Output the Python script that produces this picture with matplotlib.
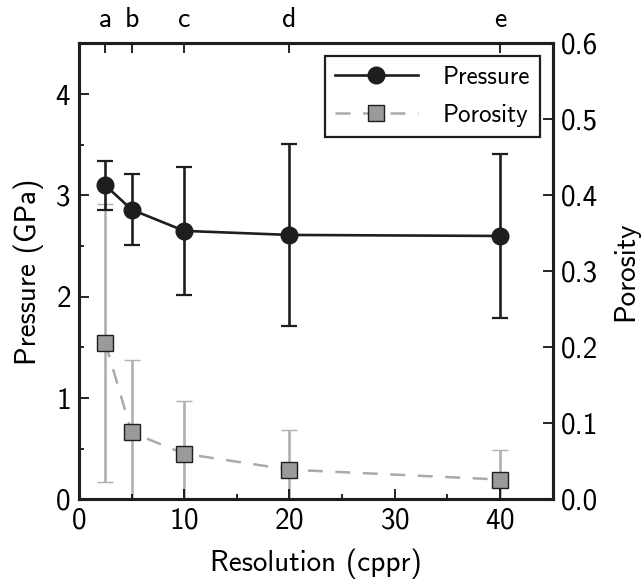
import numpy as np
from matplotlib import pyplot as plt

plt.rcParams['font.family'] = ['cmss10', 'DejaVu Sans']
plt.rcParams['axes.unicode_minus'] = False
plt.rcParams['axes.formatter.use_mathtext'] = True

# data
resolution = [2.5, 5, 10, 20, 40]
res_labels = ['a', 'b', 'c', 'd', 'e']
pressure = [3.10, 2.86, 2.65, 2.61, 2.60]
pressure_err = [0.24, 0.35, 0.63, 0.90, 0.81]
porosity = [0.206, 0.088, 0.060, 0.039, 0.026]
porosity_err = [0.183, 0.096, 0.070, 0.052, 0.039]

fig = plt.figure(figsize=(6.44, 5.87), dpi=100)
ax = fig.add_axes([0.1227, 0.1494, 0.858 - 0.1227, 0.9259 - 0.1494])
ax2 = ax.twinx()

dark = '#1e1e1e'
grey = '#aaaaaa'

por = ax2.errorbar(resolution, porosity, yerr=porosity_err, color=grey, lw=1.8,
                   dashes=(6, 5), marker='s', ms=11, mfc='#9a9a9a', mec=dark, mew=1.0,
                   elinewidth=1.9, ecolor='#b0b0b0', capsize=6, capthick=1.6, zorder=2)
pre = ax.errorbar(resolution, pressure, yerr=pressure_err, color=dark, lw=1.9,
                  marker='o', ms=12, mfc=dark, mec=dark,
                  elinewidth=1.9, ecolor=dark, capsize=6, capthick=1.6, zorder=3)

# put the pressure axis on top of the porosity twin
ax.set_zorder(ax2.get_zorder() + 1)
ax.patch.set_visible(False)

ax.set_xlim(0, 45)
ax.set_ylim(0, 4.5)
ax2.set_ylim(0, 0.6)

ax.set_xticks([0, 10, 20, 30, 40])
ax.set_xticks([5, 15, 25, 35], minor=True)
ax.set_yticks([0, 1, 2, 3, 4])
ax.set_yticks([0.5, 1.5, 2.5, 3.5], minor=True)
ax2.set_yticks([0.0, 0.1, 0.2, 0.3, 0.4, 0.5, 0.6])
ax2.set_yticklabels(['0.0', '0.1', '0.2', '0.3', '0.4', '0.5', '0.6'])

for a in (ax, ax2):
    a.tick_params(which='major', direction='in', length=7, width=1.2, labelsize=21, pad=6)
    a.tick_params(which='minor', direction='in', length=3.5, width=1.2)
    for s in a.spines.values():
        s.set_linewidth(2.2)
        s.set_color(dark)
ax.tick_params(axis='both', top=False, right=False)
ax2.tick_params(axis='y', left=False, right=True)

# resolution letters along the top
top = ax.secondary_xaxis('top')
top.set_xticks(resolution)
top.set_xticklabels(res_labels)
top.tick_params(direction='in', length=7, width=1.2, labelsize=20, pad=8)

ax.set_xlabel('Resolution (cppr)', fontsize=21, labelpad=10)
ax.set_ylabel('Pressure (GPa)', fontsize=21, labelpad=8)
ax2.set_ylabel('Porosity', fontsize=21, labelpad=10)

leg = ax.legend([pre[0], por[0]], ['Pressure', 'Porosity'], loc='upper right',
                fontsize=18, numpoints=1, handlelength=3.3, fancybox=False,
                framealpha=1, borderaxespad=0.5, handletextpad=1.0,
                borderpad=0.4, labelspacing=0.6)
leg.get_frame().set_edgecolor(dark)
leg.get_frame().set_linewidth(1.6)

fig.savefig('out.png', dpi=100)
